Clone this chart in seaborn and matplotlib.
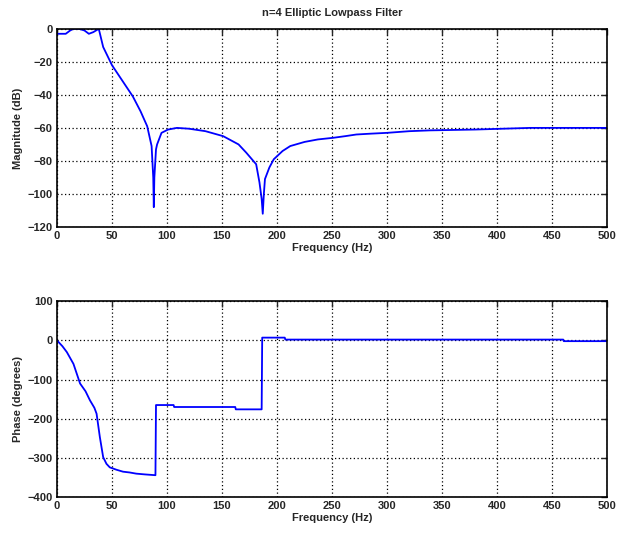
import numpy as np
import pandas as pd
import matplotlib
matplotlib.use('Agg')
import matplotlib.pyplot as plt
import seaborn as sns

# magnitude response
freq_mag = [0, 8, 12, 15, 20, 25, 29, 33, 38, 42, 50, 60, 69, 76, 82, 86, 87.5, 88, 88.5, 90, 91,
            95, 101, 109, 120, 135, 151, 165, 172, 181, 184, 186, 187, 188, 189, 193, 197, 205,
            212, 225, 237, 251, 262, 272, 285, 300, 320, 339, 380, 430, 460, 500]
mag_db = [-3, -3, -1, 0, 0, -1, -3, -2, 0, -11, -22, -32, -41, -50, -59, -71, -90, -108, -90, -73, -70,
          -63, -61, -60, -60.5, -62, -65, -70, -75, -82, -93, -103, -112, -100, -91, -84, -79, -74,
          -71, -68.5, -67, -66, -65, -64, -63.5, -63, -62, -61.5, -61, -60, -60, -60]

# phase response
freq_ph = [0, 5, 9, 15, 21, 26, 30, 34, 36, 39, 42, 45, 48, 54, 60, 66, 72, 80, 89.5, 90, 100, 106, 106.5,
           150, 162, 162.5, 186, 186.5, 200, 207, 207.5, 300, 400, 460, 460.5, 500]
phase_deg = [0, -15, -30, -60, -110, -130, -153, -172, -187, -247, -298, -315, -324, -330, -335, -337,
             -340, -342, -344, -165, -165, -165, -170, -170, -170, -176, -176, 7, 7, 7, 2, 2, 2, 2, -2, -2]

df_mag = pd.DataFrame({'f': freq_mag, 'm': mag_db})
df_ph = pd.DataFrame({'f': freq_ph, 'p': phase_deg})

sns.set_style('white')
plt.rcParams['font.family'] = ['Liberation Sans', 'DejaVu Sans']
plt.rcParams['font.weight'] = 'bold'
plt.rcParams['font.size'] = 8

fig = plt.figure(figsize=(6.19, 5.34), dpi=100)
ax1 = fig.add_axes([0.092, 0.575, 0.889, 0.371])
ax2 = fig.add_axes([0.092, 0.069, 0.889, 0.367])

sns.lineplot(data=df_mag, x='f', y='m', ax=ax1, color='#0000ff', linewidth=1.3, sort=False)
sns.lineplot(data=df_ph, x='f', y='p', ax=ax2, color='#0000ff', linewidth=1.3, sort=False)

ax1.set_xlim(0, 500)
ax1.set_ylim(-120, 0)
ax1.set_yticks(np.arange(-120, 1, 20))
ax2.set_xlim(0, 500)
ax2.set_ylim(-400, 100)
ax2.set_yticks(np.arange(-400, 101, 100))

for ax in (ax1, ax2):
    ax.set_xticks(np.arange(0, 501, 50))
    ax.grid(True, linestyle=(0, (1, 2)), color='black', linewidth=0.9)
    ax.tick_params(direction='in', length=4, width=1, top=True, right=True, labelsize=8, pad=3)
    for s in ax.spines.values():
        s.set_color('black')
        s.set_linewidth(1.2)
    ax.set_xlabel('Frequency (Hz)', fontsize=8, fontweight='bold', labelpad=1)

ax1.set_ylabel('Magnitude (dB)', fontsize=8, fontweight='bold', labelpad=3)
ax2.set_ylabel('Phase (degrees)', fontsize=8, fontweight='bold', labelpad=3)
ax1.set_title('n=4 Elliptic Lowpass Filter', fontsize=8, fontweight='bold', pad=9)

fig.savefig('out.png', dpi=100, facecolor='white')
